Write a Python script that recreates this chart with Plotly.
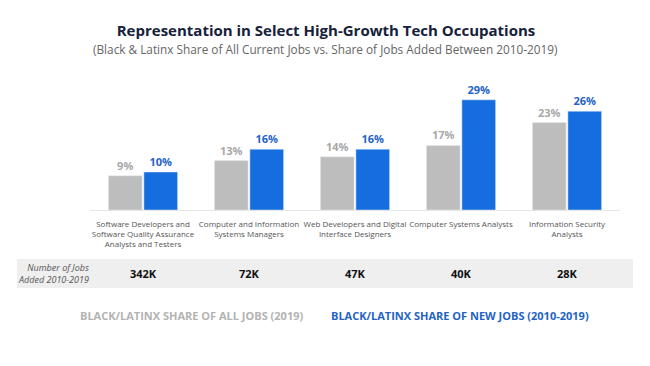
import plotly.graph_objects as go

categories = [
    "Software Developers and<br>Software Quality Assurance<br>Analysts and Testers",
    "Computer and Information<br>Systems Managers",
    "Web Developers and Digital<br>Interface Designers",
    "Computer Systems Analysts",
    "Information Security<br>Analysts",
]
share_all_jobs = [9, 13, 14, 17, 23]
share_new_jobs = [10, 16, 16, 29, 26]
jobs_added = ["342K", "72K", "47K", "40K", "28K"]

OFF = 8  # page body margin
W, H = 650 - OFF, 366 - OFF
# target pixel layout (in window coords)
PL, PR, PT, PB = 90, 620, 96, 210
L, R, T, B = PL - OFF, W - (PR - OFF), PT - OFF, H - (PB - OFF)
plot_h = H - T - B
plot_w = W - L - R


def py(pix):
    return (PB - pix) / plot_h


def px(pix):
    return (pix - PL) / plot_w


GRAY = "#bdbdbd"
BLUE = "#156de0"
FONT = "Open Sans"

fig = go.Figure()
fig.add_trace(go.Bar(
    x=categories, y=share_all_jobs, marker_color=GRAY,
    texttemplate="%{y}%", textposition="outside", cliponaxis=False,
    textfont=dict(family=FONT, size=11, color="#a8a8a8", weight="bold"),
    name="all",
))
fig.add_trace(go.Bar(
    x=categories, y=share_new_jobs, marker_color=BLUE,
    texttemplate="%{y}%", textposition="outside", cliponaxis=False,
    textfont=dict(family=FONT, size=11, color="#1f63c6", weight="bold"),
    name="new",
))

# table band
fig.add_shape(type="rect", xref="paper", yref="paper",
              x0=px(17), x1=px(633), y0=py(288), y1=py(259),
              fillcolor="#efefef", line_width=0, layer="below")

fig.add_annotation(xref="paper", yref="paper", x=px(91), y=py(273),
                   xanchor="right", yanchor="middle", align="right",
                   text="<i>Number of Jobs<br>Added 2010-2019</i>", showarrow=False,
                   font=dict(family=FONT, size=9, color="#555555"))
for c, v in zip(categories, jobs_added):
    fig.add_annotation(x=c, xref="x", yref="paper", y=py(273), text=v,
                       showarrow=False, yanchor="middle",
                       font=dict(family=FONT, size=11, color="#111111", weight="bold"))

# legend-like labels
fig.add_annotation(xref="paper", yref="paper", x=px(191), y=py(315),
                   xanchor="center", yanchor="middle",
                   text="BLACK/LATINX SHARE OF ALL JOBS (2019)", showarrow=False,
                   font=dict(family=FONT, size=11, color="#b3b3b3", weight="bold"))
fig.add_annotation(xref="paper", yref="paper", x=px(460), y=py(315),
                   xanchor="center", yanchor="middle",
                   text="BLACK/LATINX SHARE OF NEW JOBS (2010-2019)", showarrow=False,
                   font=dict(family=FONT, size=11, color="#1f63c6", weight="bold"))

# subtitle
fig.add_annotation(xref="paper", yref="paper", x=px(325), y=py(49),
                   xanchor="center", yanchor="middle",
                   text="(Black &amp; Latinx Share of All Current Jobs vs. Share of Jobs Added Between 2010-2019)",
                   showarrow=False,
                   font=dict(family=FONT, size=11.8, color="#666666"))

fig.update_layout(
    width=W, height=H,
    margin=dict(l=L, r=R, t=T, b=B, autoexpand=False),
    paper_bgcolor="white", plot_bgcolor="white",
    barmode="group", bargap=0.33, bargroupgap=0.05,
    showlegend=False,
    title=dict(text="<b>Representation in Select High-Growth Tech Occupations</b>",
               x=(326 - OFF) / W, xanchor="center",
               y=1 - (31 - OFF) / H, yanchor="middle", yref="container",
               font=dict(family=FONT, size=15, color="#16213a")),
    xaxis=dict(showline=True, linecolor="#e6e6e6", linewidth=1, ticks="",
               tickangle=0, automargin=False, ticklabelstandoff=6,
               tickfont=dict(family=FONT, size=8, color="#555555"),
               showgrid=False, fixedrange=True),
    yaxis=dict(range=[0, 30], visible=False, showgrid=False, fixedrange=True),
)

fig.write_html("out.html")
